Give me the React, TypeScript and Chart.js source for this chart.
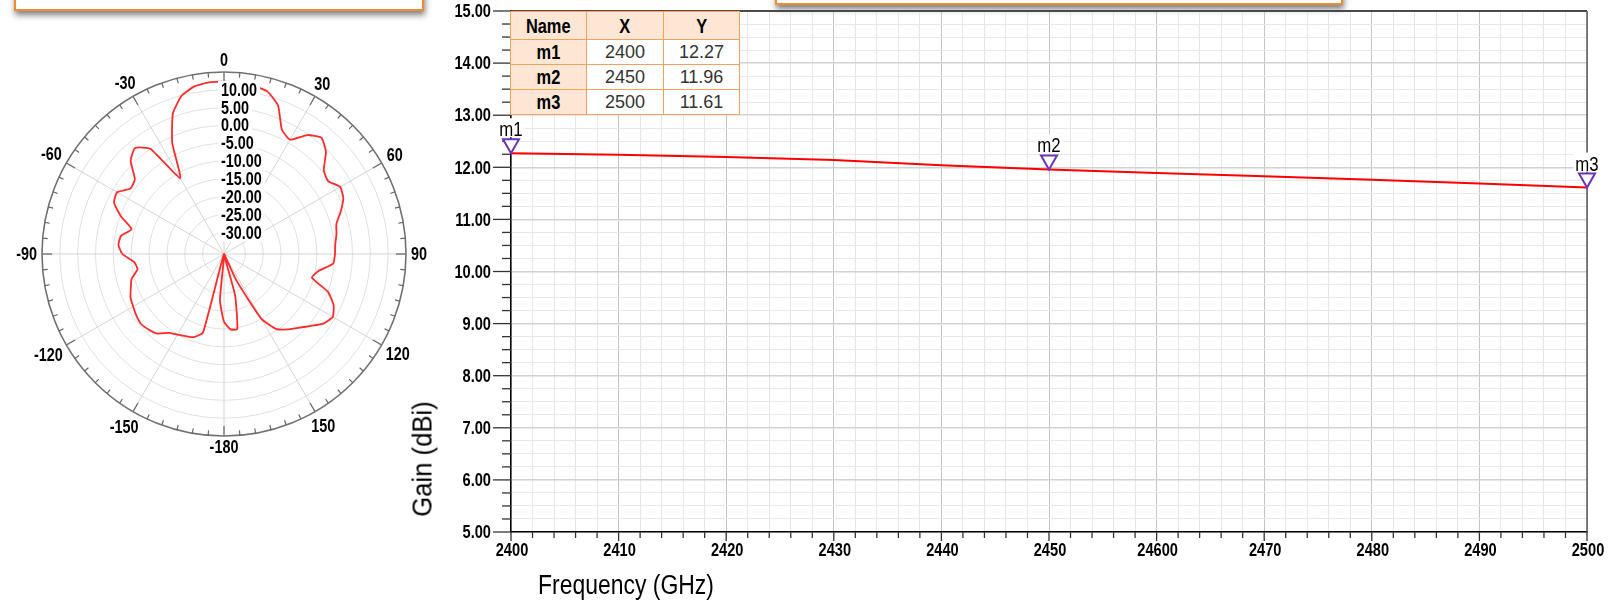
import React, { useEffect, useRef } from "react";
import { Chart, registerables } from "chart.js";

Chart.register(...registerables);

const SANS = '"Liberation Sans", Arial, sans-serif';

// ---------- Gain vs frequency ----------
const FREQUENCY = [2400, 2410, 2420, 2430, 2440, 2450, 2460, 2470, 2480, 2490, 2500];
const GAIN_DBI = [12.27, 12.24, 12.2, 12.14, 12.04, 11.96, 11.89, 11.83, 11.76, 11.69, 11.61];
const X_TICK_LABELS = ["2400", "2410", "2420", "2430", "2440", "2450", "24600", "2470", "2480", "2490", "2500"];
const X_MIN = 2400;
const X_MAX = 2500;
const X_MAJOR = 10;
const X_MINOR = 2;
const Y_MIN = 5;
const Y_MAX = 15;
const Y_MINOR = 0.25;

const MARKER_NAMES = ["m1", "m2", "m3"];
const MARKER_X = [2400, 2450, 2500];
const MARKER_Y = [12.27, 11.96, 11.61];

// ---------- Polar radiation pattern ----------
const POLAR_ANGLES = [
  0, 5, 10, 15, 20, 25, 30, 35, 40, 45, 50, 55, 60, 65, 70, 75, 80, 85, 90,
  95, 100, 105, 110, 115, 120, 125, 130, 135, 140, 145, 150, 155, 160, 165, 170, 175, 180,
  -175, -170, -165, -160, -155, -150, -145, -140, -135, -130, -125, -120, -115, -110, -105, -100, -95,
  -90, -85, -80, -75, -70, -65, -60, -55, -50, -45, -40, -35, -30, -25, -20, -15, -10, -5,
];
const POLAR_GAIN = [
  12.3, 12.2, 11.9, 11.1, 8.3, 2.4, 1.0, 4.7, 6.5, 4.4, 0.5, -0.4, 1.6, 0.9, -1.2, -3.4, -4.0, -4.7, -4.9,
  -5.3, -9.0, -10.5, -5.0, -2.1, -0.8, -2.0, -4.6, -6.7, -8.4, -10.3, -15.0, -28.0, -36.0, -24.0, -14.6, -14.8, -17.0,
  -23.0, -36.0, -13.2, -11.2, -10.6, -9.9, -9.0, -6.9, -6.1, -5.6, -6.0, -6.6, -7.1, -8.2, -9.2, -11.4, -10.7,
  -7.5, -6.3, -6.7, -9.2, -5.3, -2.0, -1.4, -4.0, -3.4, 1.0, 2.8, 0.0, -11.5, -1.7, 5.9, 9.9, 11.7, 12.3,
];
const POLAR_RINGS = [-30, -25, -20, -15, -10, -5, 0, 5, 10];
const POLAR_MIN = -36;
const POLAR_MAX = 15;

function rangeTicks(min: number, max: number, step: number) {
  const out: { value: number }[] = [];
  const n = Math.round((max - min) / step);
  for (let i = 0; i <= n; i++) out.push({ value: min + i * step });
  return out;
}

// condensed text helper (no condensed face is installed, so squeeze horizontally)
function cText(
  ctx: CanvasRenderingContext2D,
  txt: string,
  x: number,
  y: number,
  align: CanvasTextAlign,
  font: string,
  sx: number,
  baseline: CanvasTextBaseline = "alphabetic",
  color = "#000"
) {
  ctx.save();
  ctx.font = font;
  ctx.translate(x, y);
  ctx.scale(sx, 1);
  ctx.textAlign = align;
  ctx.textBaseline = baseline;
  ctx.fillStyle = color;
  ctx.fillText(txt, 0, 0);
  ctx.restore();
}
function cWidth(ctx: CanvasRenderingContext2D, txt: string, font: string, sx: number) {
  ctx.save();
  ctx.font = font;
  const w = ctx.measureText(txt).width * sx;
  ctx.restore();
  return w;
}

const TICK_FONT = `bold 19px ${SANS}`;
const TICK_SX = 0.77;

const mainDecor = {
  id: "mainDecor",
  afterDraw(chart: any) {
    const { ctx, chartArea: a } = chart;
    const x = chart.scales.x;
    const y = chart.scales.y;
    ctx.save();
    ctx.lineCap = "butt";
    // frame top / right
    ctx.strokeStyle = "#1a1a1a";
    ctx.lineWidth = 1.5;
    ctx.beginPath();
    ctx.moveTo(a.left, a.top);
    ctx.lineTo(a.right, a.top);
    ctx.stroke();
    ctx.strokeStyle = "#5a5a5a";
    ctx.beginPath();
    ctx.moveTo(a.right, a.top);
    ctx.lineTo(a.right, a.bottom);
    ctx.stroke();
    // tick marks + labels
    ctx.strokeStyle = "#333";
    ctx.lineWidth = 1.3;
    y.ticks.forEach((t: any) => {
      const py = y.getPixelForValue(t.value);
      const major = Number.isInteger(t.value);
      ctx.beginPath();
      ctx.moveTo(a.left - (major ? 18 : 9), py);
      ctx.lineTo(a.left, py);
      ctx.stroke();
      if (major) cText(ctx, t.value.toFixed(2), a.left - 20, py + 1, "right", TICK_FONT, TICK_SX, "middle");
    });
    x.ticks.forEach((t: any) => {
      const px = x.getPixelForValue(t.value);
      const k = (t.value - X_MIN) / X_MAJOR;
      const major = Number.isInteger(k);
      ctx.beginPath();
      ctx.moveTo(px, a.bottom);
      ctx.lineTo(px, a.bottom + (major ? 9 : 6));
      ctx.stroke();
      if (major) cText(ctx, X_TICK_LABELS[k], px + 1, a.bottom + 24, "center", TICK_FONT, TICK_SX);
    });
    // markers
    const mFont = `21px ${SANS}`;
    const mSx = 0.8;
    MARKER_X.forEach((mx, i) => {
      const px = x.getPixelForValue(mx);
      const py = y.getPixelForValue(MARKER_Y[i]);
      const top = py - 14;
      const txt = MARKER_NAMES[i];
      const w = cWidth(ctx, txt, mFont, mSx);
      ctx.fillStyle = "#fff";
      ctx.fillRect(px - w / 2 - 2, top - 21, w + 4, 19);
      cText(ctx, txt, px, top - 3, "center", mFont, mSx);
      ctx.beginPath();
      ctx.moveTo(px, py);
      ctx.lineTo(px - 8, top);
      ctx.lineTo(px + 8, top);
      ctx.closePath();
      ctx.fillStyle = "#fff";
      ctx.fill();
      ctx.strokeStyle = "#6b35b8";
      ctx.lineWidth = 2;
      ctx.lineJoin = "miter";
      ctx.stroke();
    });
    ctx.restore();
  },
};

function GainChart() {
  const ref = useRef<HTMLCanvasElement>(null);
  useEffect(() => {
    const chart = new Chart(ref.current as HTMLCanvasElement, {
      type: "line",
      data: {
        datasets: [
          {
            data: FREQUENCY.map((f, i) => ({ x: f, y: GAIN_DBI[i] })),
            borderColor: "#ff0000",
            borderWidth: 2,
            pointRadius: 0,
            tension: 0,
            fill: false,
          },
        ],
      },
      options: {
        animation: false,
        responsive: false,
        layout: { padding: { left: 0, top: 11, right: 23, bottom: 0 } },
        plugins: { legend: { display: false }, tooltip: { enabled: false } },
        scales: {
          x: {
            type: "linear",
            min: X_MIN,
            max: X_MAX,
            afterBuildTicks: (s: any) => {
              s.ticks = rangeTicks(X_MIN, X_MAX, X_MINOR);
            },
            afterFit: (s: any) => {
              s.height = 73;
            },
            ticks: { display: false, autoSkip: false },
            grid: {
              drawTicks: false,
              color: (c: any) =>
                Number.isInteger((c.tick.value - X_MIN) / X_MAJOR) ? "#c4c4c4" : "#e6e6e6",
              lineWidth: 1,
            },
            border: { display: true, color: "#000", width: 1.5 },
          },
          y: {
            type: "linear",
            min: Y_MIN,
            max: Y_MAX,
            afterBuildTicks: (s: any) => {
              s.ticks = rangeTicks(Y_MIN, Y_MAX, Y_MINOR);
            },
            afterFit: (s: any) => {
              s.width = 81;
            },
            ticks: { display: false, autoSkip: false },
            grid: {
              drawTicks: false,
              color: (c: any) => (Number.isInteger(c.tick.value) ? "#d2d2d2" : "#e8e8e8"),
              lineWidth: (c: any) => (Number.isInteger(c.tick.value) ? 1.6 : 1),
            },
            border: { display: true, color: "#000", width: 1.5 },
          },
        },
      },
      plugins: [mainDecor],
    } as any);
    return () => chart.destroy();
  }, []);
  return (
    <canvas
      ref={ref}
      width={1180}
      height={605}
      style={{ position: "absolute", left: 430, top: 0, width: 1180, height: 605 }}
    />
  );
}

const P_FONT = `bold 18px ${SANS}`;
const P_SX = 0.8;

const polarDecor = {
  id: "polarDecor",
  afterDraw(chart: any) {
    const scale = chart.scales.r;
    const ctx = chart.ctx;
    const R = scale.drawingArea;
    const cx = scale.xCenter;
    const cy = scale.yCenter;
    ctx.save();
    // frame tick marks
    ctx.strokeStyle = "#666";
    ctx.lineWidth = 1.2;
    POLAR_ANGLES.forEach((a, i) => {
      const major = a % 30 === 0;
      const p1 = scale.getPointPosition(i, R);
      const p2 = scale.getPointPosition(i, R - (major ? 10 : 5));
      ctx.beginPath();
      ctx.moveTo(p1.x, p1.y);
      ctx.lineTo(p2.x, p2.y);
      ctx.stroke();
    });
    // ring value labels
    POLAR_RINGS.forEach((v) => {
      const d = scale.getDistanceFromCenterForValue(v);
      const yy = cy - d;
      const txt = v.toFixed(2);
      const w = cWidth(ctx, txt, P_FONT, P_SX);
      const x0 = cx - 3;
      ctx.fillStyle = "#fff";
      ctx.fillRect(x0 - 3, yy - 9, w + 6, 18);
      cText(ctx, txt, x0, yy + 1, "left", P_FONT, P_SX, "middle");
    });
    // angle labels
    POLAR_ANGLES.forEach((a, i) => {
      if (a % 30 !== 0) return;
      const txt = a === 180 ? "-180" : String(a);
      const w = cWidth(ctx, txt, P_FONT, P_SX);
      const ang = scale.getIndexAngle(i);
      const dist = R + 5 + (w / 2) * Math.abs(Math.sin(ang)) + 6.5 * Math.abs(Math.cos(ang));
      const p = scale.getPointPosition(i, dist);
      cText(ctx, txt, p.x, p.y + 1, "center", P_FONT, P_SX, "middle");
    });
    ctx.restore();
  },
};

function PolarChart() {
  const ref = useRef<HTMLCanvasElement>(null);
  useEffect(() => {
    const chart = new Chart(ref.current as HTMLCanvasElement, {
      type: "radar",
      data: {
        labels: POLAR_ANGLES.map((a) => String(a)),
        datasets: [
          {
            data: POLAR_GAIN,
            borderColor: "#ff2a2a",
            backgroundColor: "transparent",
            borderWidth: 1.8,
            pointRadius: 0,
            fill: false,
            tension: 0.15,
          },
        ],
      },
      options: {
        animation: false,
        responsive: false,
        layout: { padding: { left: 42, top: 72, right: 44, bottom: 44 } },
        plugins: { legend: { display: false }, tooltip: { enabled: false } },
        scales: {
          r: {
            min: POLAR_MIN,
            max: POLAR_MAX,
            afterBuildTicks: (s: any) => {
              s.ticks = [...POLAR_RINGS, POLAR_MAX].map((v) => ({ value: v }));
            },
            ticks: { display: false },
            pointLabels: { display: false },
            grid: {
              circular: true,
              color: (c: any) => (c.tick && c.tick.value === POLAR_MAX ? "#707070" : "#e0e0e0"),
              lineWidth: (c: any) => (c.tick && c.tick.value === POLAR_MAX ? 1.6 : 1),
            },
            angleLines: {
              display: true,
              color: (c: any) => (POLAR_ANGLES[c.index] % 30 === 0 ? "#d4d4d4" : "transparent"),
              lineWidth: 1,
            },
          },
        },
      },
      plugins: [polarDecor],
    } as any);
    return () => chart.destroy();
  }, []);
  return (
    <canvas
      ref={ref}
      width={450}
      height={480}
      style={{ position: "absolute", left: 0, top: 0, width: 450, height: 480 }}
    />
  );
}

function Squeezed(props: { text: string; sx: number; style?: React.CSSProperties }) {
  return (
    <span style={{ display: "inline-block", transform: `scaleX(${props.sx})`, whiteSpace: "nowrap", ...props.style }}>
      {props.text}
    </span>
  );
}

function MarkerTable() {
  const peach = "#fde6d4";
  const cell = (content: string, bg: string, bold: boolean, key: string) => (
    <div
      key={key}
      style={{
        background: bg,
        display: "flex",
        alignItems: "center",
        justifyContent: "center",
        fontFamily: SANS,
        fontWeight: bold ? "bold" : "normal",
        fontSize: bold ? 20 : 18,
        color: bold ? "#000" : "#333",
        lineHeight: 1,
      }}
    >
      {bold ? <Squeezed text={content} sx={0.82} /> : content}
    </div>
  );
  const cells: any[] = [];
  cells.push(cell("Name", peach, true, "h0"), cell("X", peach, true, "h1"), cell("Y", peach, true, "h2"));
  MARKER_NAMES.forEach((n, i) => {
    cells.push(cell(n, peach, true, "n" + i));
    cells.push(cell(String(MARKER_X[i]), "#fff", false, "x" + i));
    cells.push(cell(MARKER_Y[i].toFixed(2), "#fff", false, "y" + i));
  });
  return (
    <div
      style={{
        position: "absolute",
        left: 510,
        top: 11,
        width: 230,
        height: 104,
        boxSizing: "border-box",
        padding: 1,
        background: "#f1a25c",
        display: "grid",
        gridTemplateColumns: "75px 76px 75px",
        gridTemplateRows: "27px 24px 24px 24px",
        gap: 1,
      }}
    >
      {cells}
    </div>
  );
}

export default function App() {
  const boxStyle = (left: number, width: number, bottom: number): React.CSSProperties => ({
    position: "absolute",
    left,
    top: bottom - 50,
    width,
    height: 50,
    boxSizing: "border-box",
    border: "2px solid #f28a2e",
    background: "#fff",
    boxShadow: "1px 4px 6px rgba(0,0,0,0.5)",
  });
  return (
    <div
      style={{
        position: "absolute",
        left: 0,
        top: 0,
        width: 1610,
        height: 605,
        overflow: "hidden",
        background: "#fff",
      }}
    >
      <div style={boxStyle(14, 410, 11)} />
      <div style={boxStyle(775, 568, 5)} />
      <PolarChart />
      <GainChart />
      <MarkerTable />
      <div
        style={{
          position: "absolute",
          left: 423,
          top: 459,
          transform: "translate(-50%, -50%) rotate(-90deg)",
          fontFamily: SANS,
          fontSize: 27,
          color: "#000",
          whiteSpace: "nowrap",
          lineHeight: 1,
        }}
      >
        <Squeezed text="Gain (dBi)" sx={0.95} />
      </div>
      <div
        style={{
          position: "absolute",
          left: 626,
          top: 585,
          transform: "translate(-50%, -50%)",
          fontFamily: SANS,
          fontSize: 27,
          color: "#000",
          whiteSpace: "nowrap",
          lineHeight: 1,
        }}
      >
        <Squeezed text="Frequency (GHz)" sx={0.85} />
      </div>
    </div>
  );
}
